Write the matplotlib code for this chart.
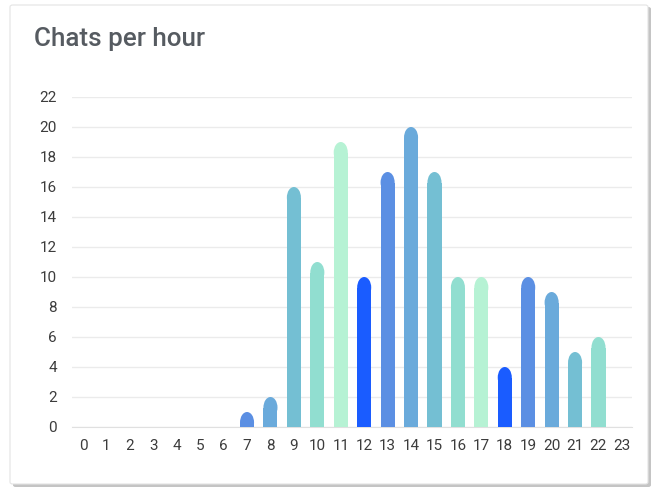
import numpy as np
import matplotlib.pyplot as plt
from matplotlib.patches import FancyBboxPatch, Ellipse, Rectangle

plt.rcParams['font.family'] = ['Roboto', 'DejaVu Sans']

# Dane
hours = list(range(24))
chats = [0, 0, 0, 0, 0, 0, 0, 1, 2, 16, 11, 19, 10, 17, 20, 17, 10, 10, 4, 10, 9, 5, 6, 0]
palette = ['#1a5cff', '#5b8fe3', '#6aaadb', '#74bfd3', '#91ded0', '#b6f2d4']
y_ticks = list(range(0, 23, 2))

fig = plt.figure(figsize=(6.6, 4.92), dpi=100)
fig.patch.set_facecolor('white')

# karta z cieniem
shadow = FancyBboxPatch((13 / 660, 1 - 487 / 492), 638 / 660, 480 / 492,
                        boxstyle='round,pad=0,rounding_size=0.004',
                        transform=fig.transFigure, facecolor='#c4c4c4',
                        edgecolor='none', zorder=-3)
card = FancyBboxPatch((10 / 660, 1 - 484 / 492), 638 / 660, 479 / 492,
                      boxstyle='round,pad=0,rounding_size=0.004',
                      transform=fig.transFigure, facecolor='white',
                      edgecolor='#e4e4e4', linewidth=0.8, zorder=-2)
fig.patches.extend([shadow, card])

fig.text(34 / 660, 1 - 39 / 492, 'Chats per hour', fontsize=18.7, color='#565b61',
         va='center', ha='left', fontweight='medium')

ax = fig.add_axes([72 / 660, 1 - 427 / 492, 560 / 660, 330 / 492])
ax.set_facecolor('none')
ax.set_xlim(-0.47, 23.43)
ax.set_ylim(0, 22)

w = 0.6
cap = 0.7  # wysokość zaokrąglenia w jednostkach danych
for h, v in zip(hours, chats):
    if v <= 0:
        continue
    c = palette[h % 6]
    body = max(v - cap, 0)
    ax.add_patch(Rectangle((h - w / 2, 0), w, body, facecolor=c, edgecolor='none', zorder=3))
    ax.add_patch(Ellipse((h, body), w, 2 * cap, facecolor=c, edgecolor='none', zorder=3))

ax.set_yticks(y_ticks)
ax.set_xticks(hours)
ax.set_xticklabels([str(h) for h in hours])
ax.grid(axis='y', color='#ebebeb', linewidth=1, zorder=0)
ax.set_axisbelow(True)
for s in ['top', 'right', 'left']:
    ax.spines[s].set_visible(False)
ax.spines['bottom'].set_color('#e0e0e0')
ax.tick_params(axis='both', length=0, labelsize=11, labelcolor='#3c3c3c')
ax.tick_params(axis='y', pad=11)
ax.tick_params(axis='x', pad=9)

fig.savefig('out.png', dpi=100)
